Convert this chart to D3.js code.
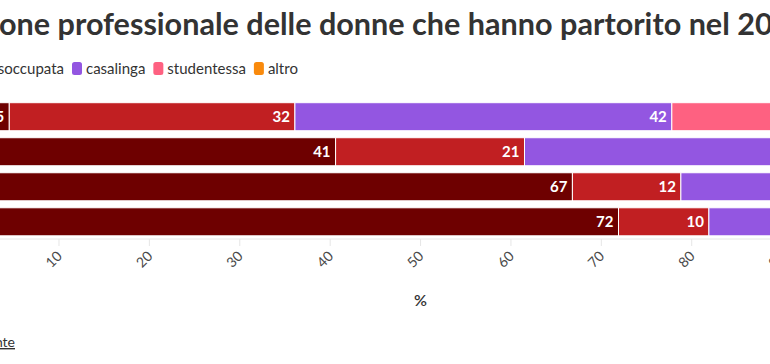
<!DOCTYPE html>
<html lang="it">
<head>
<meta charset="utf-8">
<title>Condizione professionale delle donne che hanno partorito</title>
<script src="https://cdn.jsdelivr.net/npm/d3@7"></script>
<style>
  body { margin: 0; background: #fff; overflow: hidden; }
  svg { display: block; font-family: Lato, "Open Sans", sans-serif; }
</style>
</head>
<body>
<script>
  var w = 770;
  var h = 364;

  // classi (righe) e condizioni (segmenti)
  var classi = ["< 20", "20-29", "30-39", "40 e oltre"];
  var condizioni = ["occupata", "disoccupata", "casalinga", "studentessa", "altro"];
  var colori = ["#6e0000", "#c11f22", "#9356e1", "#fe6181", "#f98a0c"];

  // valori in %, una serie per condizione (ordine delle righe come classi)
  var occupata    = [4.5, 40.6, 66.8, 71.9];
  var disoccupata = [31.6, 20.9, 12.0, 10.0];
  var casalinga   = [41.7, 35.0, 19.5, 16.5];
  var studentessa = [20.5, 2.5, 0.7, 0.5];
  var altro       = [1.7, 1.0, 1.0, 1.1];

  var ticks = [0, 10, 20, 30, 40, 50, 60, 70, 80, 90, 100];

  var serie = [occupata, disoccupata, casalinga, studentessa, altro];

  // tabella per d3.stack
  var table = classi.map(function(c, i) {
    var row = { classe: c };
    condizioni.forEach(function(k, j) { row[k] = serie[j][i]; });
    return row;
  });
  var stacked = d3.stack().keys(condizioni)(table);

  var svg = d3.select("body").append("svg")
              .attr("width", w)
              .attr("height", h);

  var x = d3.scaleLinear().domain([0, 100]).range([-31.4, 872.5]);
  var y = d3.scaleBand().domain(classi).range([102.7, 235.8]).paddingInner(0.2);
  var color = d3.scaleOrdinal().domain(condizioni).range(colori);

  // titolo (il grafico e' ritagliato: "Condizi" esce a sinistra)
  var titolo = "Condizione professionale delle donne che hanno partorito nel 2021";
  var title = svg.append("text")
                 .attr("y", 34.5)
                 .attr("font-size", 26)
                 .attr("font-weight", 700)
                 .attr("fill", "#333")
                 .text(titolo);
  var tnode = title.node();
  var visStart = titolo.indexOf("one ");
  var visEnd = titolo.indexOf("nel 20") + 6;
  var visW = tnode.getSubStringLength(visStart, visEnd - visStart);
  var fs = 26 * 774 / visW;
  title.attr("font-size", fs);
  var pre = tnode.getSubStringLength(0, visStart);
  title.attr("x", -1 - pre);

  // legenda
  var legend = svg.append("g").attr("class", "legend");
  var lx = 0;
  var items = [];
  condizioni.forEach(function(k, i) {
    var g = legend.append("g").attr("transform", "translate(" + lx + ",0)");
    g.append("rect")
     .attr("x", 0).attr("y", 62)
     .attr("width", 10).attr("height", 13)
     .attr("rx", 2.5)
     .attr("fill", color(k));
    var t = g.append("text")
             .attr("x", 14).attr("y", 73.5)
             .attr("font-size", 15)
             .attr("fill", "#333")
             .text(k);
    items.push(lx);
    lx += 14 + t.node().getComputedTextLength() + 8;
  });
  legend.attr("transform", "translate(" + (72 - items[2]) + ",0)");

  // asse x
  var axis = svg.append("g").attr("class", "axis");
  axis.append("line")
      .attr("x1", 0).attr("x2", w)
      .attr("y1", 239).attr("y2", 239)
      .attr("stroke", "#e6e6e6");
  axis.selectAll("line.tick")
      .data(ticks)
      .enter().append("line")
      .attr("class", "tick")
      .attr("x1", function(d) { return x(d); })
      .attr("x2", function(d) { return x(d); })
      .attr("y1", 239).attr("y2", 246)
      .attr("stroke", "#e6e6e6");
  axis.selectAll("text")
      .data(ticks)
      .enter().append("text")
      .attr("transform", function(d) { return "translate(" + (x(d) + 4) + ",257) rotate(-45)"; })
      .attr("text-anchor", "end")
      .attr("font-size", 14)
      .attr("fill", "#4a4a4a")
      .text(function(d) { return d; });

  svg.append("text")
     .attr("x", (x(0) + x(100)) / 2)
     .attr("y", 306)
     .attr("text-anchor", "middle")
     .attr("font-size", 16)
     .attr("font-weight", 600)
     .attr("fill", "#333")
     .text("%");

  // barre
  var layers = svg.append("g").attr("class", "bars")
                  .selectAll("g")
                  .data(stacked)
                  .enter().append("g")
                  .attr("fill", function(d) { return color(d.key); });

  layers.selectAll("rect")
        .data(function(d) { return d; })
        .enter().append("rect")
        .attr("x", function(d) { return x(d[0]); })
        .attr("y", function(d) { return y(d.data.classe); })
        .attr("width", function(d) { return x(d[1]) - x(d[0]); })
        .attr("height", y.bandwidth())
        .attr("stroke", "#fff")
        .attr("stroke-width", 1);

  layers.selectAll("text")
        .data(function(d) { return d.filter(function(s) { return x(s[1]) - x(s[0]) > 24; }); })
        .enter().append("text")
        .attr("x", function(d) { return x(d[1]) - 5; })
        .attr("y", function(d) { return y(d.data.classe) + y.bandwidth() / 2; })
        .attr("dy", "0.36em")
        .attr("text-anchor", "end")
        .attr("font-size", 15)
        .attr("font-weight", 700)
        .attr("fill", "#fff")
        .text(function(d) { return Math.round(d[1] - d[0]); });

  // fonte
  svg.append("text")
     .attr("x", 15)
     .attr("y", 347)
     .attr("text-anchor", "end")
     .attr("font-size", 14)
     .attr("fill", "#333")
     .attr("text-decoration", "underline")
     .text("Fonte");
</script>
</body>
</html>
